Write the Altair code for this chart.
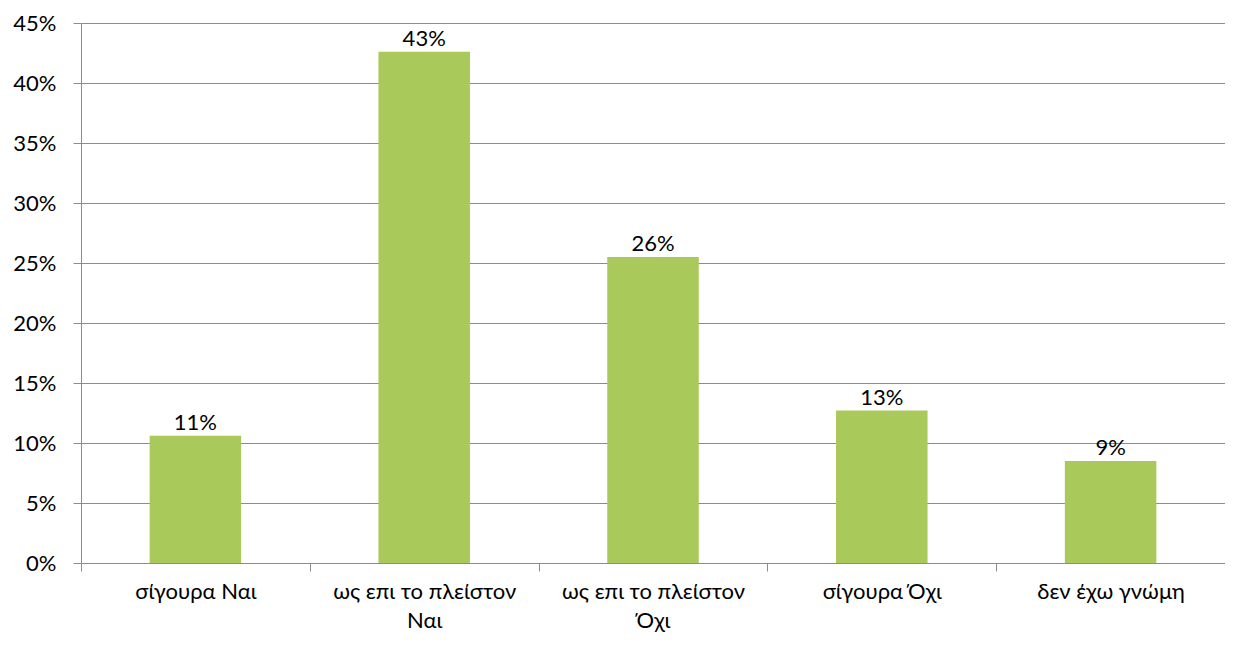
import altair as alt
import pandas as pd

categories = ["σίγουρα Ναι", "ως επι το πλείστον Ναι", "ως επι το πλείστον Όχι", "σίγουρα Όχι", "δεν έχω γνώμη"]
values = [10.6, 42.6, 25.5, 12.7, 8.5]
value_labels = ["11%", "43%", "26%", "13%", "9%"]
y_ticks = [0, 5, 10, 15, 20, 25, 30, 35, 40, 45]

df = pd.DataFrame({"cat": categories, "val": values, "lab": value_labels})

FONT = "Lato"
GRID = "#8C8C8C"

x_enc = alt.X(
    "cat:N",
    sort=categories,
    title=None,
    scale=alt.Scale(paddingInner=0, paddingOuter=0),
    axis=alt.Axis(
        labelAngle=0,
        tickBand="extent",
        grid=False,
        domain=False,
        ticks=True,
        tickSize=8,
        tickColor=GRID,
        labelFont=FONT,
        labelFontSize=22,
        labelColor="#000000",
        labelPadding=10,
        labelLineHeight=29,
        labelBaseline="top",
        labelLimit=400,
        labelExpr="length(datum.label) > 15 ? [slice(datum.label, 0, lastindexof(datum.label, ' ')), slice(datum.label, lastindexof(datum.label, ' ') + 1)] : datum.label",
    ),
)

y_enc = alt.Y(
    "val:Q",
    title=None,
    scale=alt.Scale(domain=[0, 45], nice=False),
    axis=alt.Axis(
        values=y_ticks,
        labelExpr="datum.value + '%'",
        grid=True,
        gridColor=GRID,
        gridWidth=1,
        domain=True,
        domainColor=GRID,
        tickSize=8,
        tickColor=GRID,
        labelFont=FONT,
        labelFontSize=22,
        labelColor="#000000",
        labelPadding=17,
    ),
)

bars = alt.Chart(df).mark_bar(
    color="#A9CA5A", width=alt.RelativeBandSize(0.4)
).encode(x=x_enc, y=y_enc)

texts = alt.Chart(df).mark_text(
    font=FONT, fontSize=22, color="#000000", baseline="bottom", dy=-1
).encode(x=alt.X("cat:N", sort=categories), y="val:Q", text="lab:N")

chart = (
    alt.layer(bars, texts)
    .properties(
        width=1144,
        height=540,
        autosize="none",
        padding={"left": 73, "top": 15, "right": 0, "bottom": 75},
        background="white",
    )
    .configure_view(stroke=None)
)

chart.save("out.html", embed_options={"renderer": "svg", "actions": False})
